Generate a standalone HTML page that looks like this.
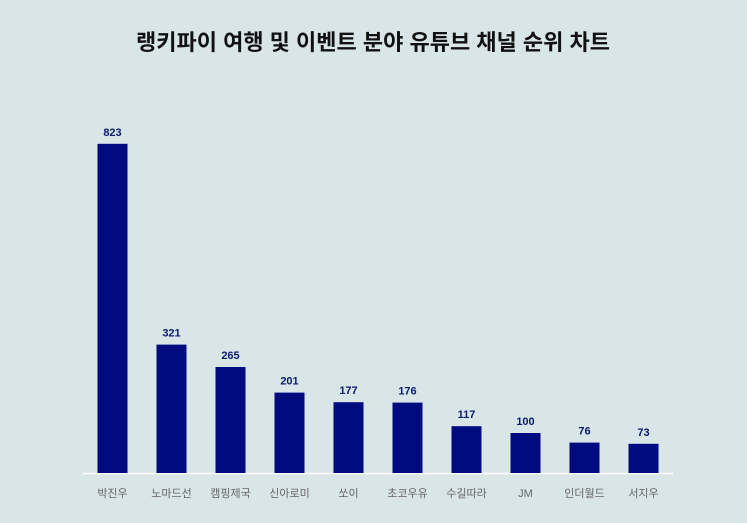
<!DOCTYPE html>
<html><head><meta charset="utf-8"><style>
body{margin:0;background:#d9e6e7;width:747px;height:518px;overflow:hidden;font-family:"Liberation Sans","Noto Sans CJK KR",sans-serif}
</style></head><body>
<svg width="747" height="518">
<rect width="747" height="518" fill="#d9e6e7"/>
<text x="373" y="50" text-anchor="middle" font-size="22" font-weight="bold" fill="#111" font-family="Liberation Sans, Noto Sans CJK KR, sans-serif">랭키파이 여행 및 이벤트 분야 유튜브 채널 순위 차트</text>
<line x1="83" y1="473.5" x2="673" y2="473.5" stroke="#ffffff" stroke-width="1.5"/>
<g id="bars"></g>
</svg>
<script>
const categories=["박진우","노마드선","캠핑제국","신아로미","쏘이","초코우유","수길따라","JM","인더월드","서지우"];
const values=[823,321,265,201,177,176,117,100,76,73];
const g=document.getElementById('bars');
const ns="http://www.w3.org/2000/svg";
const x0=83,step=59,bw=30,base=473,k=0.4;
function xC(i){return x0+step*i+step/2;}
function yV(v){return base-v*k;}
categories.forEach((c,i)=>{
  const r=document.createElementNS(ns,'rect');
  r.setAttribute('x',xC(i)-bw/2);r.setAttribute('y',yV(values[i]));
  r.setAttribute('width',bw);r.setAttribute('height',base-yV(values[i]));
  r.setAttribute('fill','#000b80');
  
  
  g.appendChild(r);
  const t=document.createElementNS(ns,'text');
  t.setAttribute('x',xC(i));t.setAttribute('y',yV(values[i])-8);
  t.setAttribute('text-anchor','middle');t.setAttribute('font-size','11');
  t.setAttribute('font-weight','bold');t.setAttribute('fill','#0a1a6e');
  t.textContent=values[i];
  
  
  g.appendChild(t);
  const l=document.createElementNS(ns,'text');
  l.setAttribute('x',xC(i));l.setAttribute('y',497);
  l.setAttribute('text-anchor','middle');l.setAttribute('font-size','11');
  l.setAttribute('fill','#666');
  l.textContent=c;
  
  
  g.appendChild(l);
});
</script>
</body></html>
